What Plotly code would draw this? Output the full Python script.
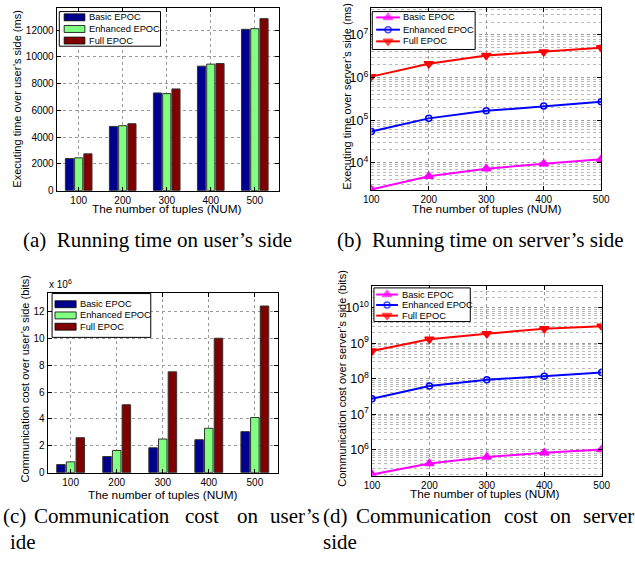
import plotly.graph_objects as go

# ---------------- data ----------------
tuples = [100, 200, 300, 400, 500]
tuple_labels = ["100", "200", "300", "400", "500"]
series_names = ["Basic EPOC", "Enhanced EPOC", "Full EPOC"]

# (a) running time on user's side (ms)
time_user_basic = [2400, 4800, 7300, 9300, 12050]
time_user_enh = [2450, 4850, 7250, 9450, 12100]
time_user_full = [2750, 5000, 7600, 9500, 12850]

# (b) running time on server's side (ms)
time_server_basic = [2350, 4800, 7200, 9500, 12000]
time_server_enh = [54000, 110000, 165000, 215000, 270000]
time_server_full = [1050000, 2100000, 3300000, 4000000, 5000000]

# (c) communication cost on user's side (x 10^6 bits)
comm_user_basic = [0.6, 1.2, 1.85, 2.45, 3.05]
comm_user_enh = [0.8, 1.65, 2.5, 3.3, 4.1]
comm_user_full = [2.6, 5.05, 7.5, 10.0, 12.4]

# (d) communication cost on server's side (bits)
comm_server_basic = [200000, 410000, 620000, 820000, 1020000]
comm_server_enh = [27500000, 63000000, 94000000, 119000000, 150000000]
comm_server_full = [610000000, 1300000000, 1870000000, 2600000000, 3050000000]

bar_colors = ["#00008F", "#80FF80", "#800000"]
line_colors = ["#FF00FF", "#0000FF", "#FF0000"]
line_symbols = ["triangle-up", "circle-open", "triangle-down"]
line_sizes = [8, 6, 8]

W, H = 635, 566
SANS = "Liberation Sans"
SERIF = "Liberation Serif"


def px(x):
    return x / W


def py(y):
    return 1 - y / H


fig = go.Figure()

axmap = {"a": ("x", "y"), "b": ("x2", "y2"), "c": ("x3", "y3"), "d": ("x4", "y4")}

bar_sets = {
    "a": [time_user_basic, time_user_enh, time_user_full],
    "c": [comm_user_basic, comm_user_enh, comm_user_full],
}
line_sets = {
    "b": [time_server_basic, time_server_enh, time_server_full],
    "d": [comm_server_basic, comm_server_enh, comm_server_full],
}

for k, sets in bar_sets.items():
    xa, ya = axmap[k]
    for name, vals, col in zip(series_names, sets, bar_colors):
        fig.add_trace(go.Bar(
            x=tuple_labels, y=vals, name=name, xaxis=xa, yaxis=ya,
            marker=dict(color=col, line=dict(color="#333333", width=1)),
            showlegend=False,
        ))

for k, sets in line_sets.items():
    xa, ya = axmap[k]
    for name, vals, col, sym, sz in zip(series_names, sets, line_colors, line_symbols, line_sizes):
        fig.add_trace(go.Scatter(
            x=tuples, y=vals, name=name, xaxis=xa, yaxis=ya, mode="lines+markers",
            line=dict(color=col, width=2),
            marker=dict(symbol=sym, size=sz, color=col, line=dict(color=col, width=1.5)),
            showlegend=False,
        ))

# ---------------- hand-drawn legends (pixel overlay) ----------------
ann = []


def txt(x, y, s, size, angle=0, family=SANS, xanchor="center"):
    ann.append(dict(x=px(x), y=py(y), xref="paper", yref="paper", text=s, showarrow=False,
                    font=dict(family=family, size=size, color="black"), textangle=angle,
                    xanchor=xanchor, yanchor="middle"))


def legend_box(x0, y0, x1, y1):
    fig.add_trace(go.Scatter(
        x=[x0, x1, x1, x0, x0], y=[y0, y0, y1, y1, y0], xaxis="x5", yaxis="y5",
        mode="lines", fill="toself", fillcolor="white",
        line=dict(color="black", width=1), hoverinfo="skip", showlegend=False))


def legend_bar(box, rows, sw, tx):
    legend_box(*box)
    for name, col, yy in zip(series_names, bar_colors, rows):
        fig.add_trace(go.Scatter(
            x=[sw[0], sw[1], sw[1], sw[0], sw[0]],
            y=[yy - 3.5, yy - 3.5, yy + 3.5, yy + 3.5, yy - 3.5],
            xaxis="x5", yaxis="y5", mode="lines", fill="toself", fillcolor=col,
            line=dict(color="black", width=0.8), hoverinfo="skip", showlegend=False))
        txt(tx, yy, name, 9.3, xanchor="left")


def legend_line(box, rows, sw, tx):
    legend_box(*box)
    for name, col, sym, sz, yy in zip(series_names, line_colors, line_symbols, line_sizes, rows):
        fig.add_trace(go.Scatter(
            x=[sw[0], (sw[0] + sw[1]) / 2, sw[1]], y=[yy, yy, yy],
            xaxis="x5", yaxis="y5", mode="lines+markers",
            line=dict(color=col, width=2),
            marker=dict(symbol=sym, size=[0, sz, 0], color=col, line=dict(color=col, width=1.5)),
            hoverinfo="skip", showlegend=False))
        txt(tx, yy, name, 9.3, xanchor="left")


legend_bar((52.7, 11.7, 156.7, 46.7), [17.5, 29.3, 41.0], (57.7, 79), 81)
legend_line((374.3, 11.7, 480, 50), [17.6, 30.0, 41.8], (378.3, 402.7), 404.3)
legend_bar((45.3, 296.7, 146.7, 341), [307.5, 318.8, 330.2], (48.3, 70), 71.7)
legend_line((376, 291, 475, 325), [297.7, 308.3, 319.0], (378.3, 400.7), 402.3)

common_axis = dict(
    showline=True, linecolor="black", linewidth=1, mirror="ticks",
    ticks="inside", ticklen=4, tickcolor="black",
    tickfont=dict(family=SANS, size=10, color="black"),
    showgrid=True, gridcolor="#9a9a9a", griddash="dot", gridwidth=1,
    zeroline=False,
)
log_minor = dict(dtick="D1", showgrid=True, gridcolor="#b8b8b8", griddash="dot",
                 ticks="", gridwidth=1)

layout = dict(
    width=W, height=H, margin=dict(l=0, r=0, t=0, b=0, pad=0),
    paper_bgcolor="white", plot_bgcolor="rgba(0,0,0,0)",
    barmode="group", bargap=0.37, bargroupgap=0.12,
    font=dict(family=SANS, size=10, color="black"),
    showlegend=False,
)

layout["xaxis"] = dict(common_axis, domain=[px(50), px(278)], anchor="y",
                       type="category", range=[-0.5, 4.54])
layout["yaxis"] = dict(common_axis, domain=[py(192.7), py(8)], anchor="x",
                       range=[0, 13650], dtick=2000, tickformat="d")
layout["xaxis2"] = dict(common_axis, domain=[px(373.3), px(609.5)], anchor="y2",
                        range=[100, 500], dtick=100)
layout["yaxis2"] = dict(common_axis, domain=[py(192), py(8)], anchor="x2",
                        type="log", range=[3.36, 7.635], dtick=1, exponentformat="power",
                        minor=log_minor)
layout["xaxis3"] = dict(common_axis, domain=[px(40.7), px(277.3)], anchor="y3",
                        type="category", range=[-0.5, 4.5])
layout["yaxis3"] = dict(common_axis, domain=[py(477.7), py(295.7)], anchor="x3",
                        range=[0, 13.4], dtick=2)
layout["xaxis4"] = dict(common_axis, domain=[px(374), px(610)], anchor="y4",
                        range=[100, 500], dtick=100)
layout["yaxis4"] = dict(common_axis, domain=[py(480.7), py(289)], anchor="x4",
                        type="log", range=[5.27, 10.62], dtick=1, exponentformat="power",
                        minor=log_minor)
# full-page pixel overlay for legends
layout["xaxis5"] = dict(domain=[0, 1], anchor="y5", range=[0, W], visible=False, fixedrange=True)
layout["yaxis5"] = dict(domain=[0, 1], anchor="x5", range=[H, 0], visible=False, fixedrange=True)

fig.update_layout(**layout)

# axis titles
txt(163, 211.5, "The number of tuples (NUM)", 11.8)
txt(9, 100, "Executing time over user’s side (ms)", 11, -90)
txt(492, 211.5, "The number of tuples (NUM)", 11.8)
txt(348, 97, "Executing time over server’s side (ms)", 11, -90)
txt(159, 500.5, "The number of tuples (NUM)", 11.8)
txt(17, 383, "Communication cost over user’s side (bits)", 11, -90)
txt(490, 499.5, "The number of tuples (NUM)", 11.8)
txt(343, 382, "Communication cost over server’s side (bits)", 11, -90)
txt(40, 287.5, "x 10<sup>6</sup>", 10, xanchor="left")

# captions
txt(154, 243, "(a)\u00a0\u00a0Running time on user’s side", 21, family=SERIF)
txt(486, 243, "(b)\u00a0\u00a0Running time on server’s side", 21, family=SERIF)
for word, x in [("(c)", -7), ("Communication", 25), ("cost", 180), ("on", 233), ("user’s", 267)]:
    txt(x, 522, word, 21, family=SERIF, xanchor="left")
txt(0, 548, "ide", 21, family=SERIF, xanchor="left")
for word, x in [("(d)", 322), ("Communication", 356), ("cost", 508), ("on", 555), ("server’s", 589)]:
    txt(x, 522, word, 21, family=SERIF, xanchor="left")
txt(322, 548, "side", 21, family=SERIF, xanchor="left")

fig.update_layout(annotations=ann)

fig.write_html("out.html", config={"displayModeBar": False},
               post_script="document.body.style.margin='0px';")
